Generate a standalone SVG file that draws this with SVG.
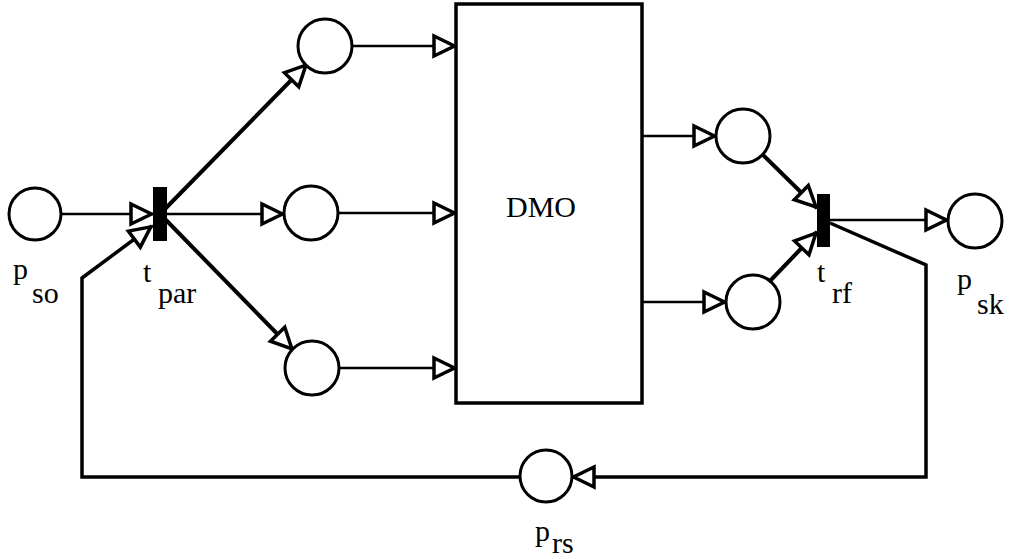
<svg xmlns="http://www.w3.org/2000/svg" width="1009" height="559" viewBox="0 0 1009 559">
<style>
.place{fill:#fff;stroke:#000;stroke-width:3}
.trans{fill:#000;stroke:none}
.box{fill:#fff;stroke:#000;stroke-width:3.5}
.c{fill:none;stroke:#000;stroke-width:2.5}
.d{fill:none;stroke:#000;stroke-width:4;stroke-linejoin:miter}
.f{fill:none;stroke:#000;stroke-width:3.5}
.a{marker-end:url(#arr)}
.t{font-family:'Times New Roman','Liberation Serif','DejaVu Serif',serif;font-size:30px;fill:#000}
</style>
<defs>
<marker id="arr" markerUnits="userSpaceOnUse" markerWidth="40" markerHeight="40" viewBox="-30 -20 40 40" refX="0" refY="0" orient="auto" overflow="visible">
<path d="M-1.5,0 L-22,-10 L-22,10 Z" fill="#fff" stroke="#000" stroke-width="3.5" stroke-linejoin="miter"/>
</marker>
</defs>
<g id="connectors">
<path class="c a" d="M61,214 L153,214"/>
<path class="c a" d="M167,214 L284,214"/>
<path class="d a" d="M163,211 L307,64"/>
<path class="d a" d="M165,219 L293,350"/>
<path class="f a" d="M520,477 L82,477 L82,278 L152,226"/>
<path class="c a" d="M352,46 L456,46"/>
<path class="c a" d="M338,213 L456,213"/>
<path class="c a" d="M339,368 L456,368"/>
<path class="c a" d="M642,136 L716,136"/>
<path class="c a" d="M642,302 L726,302"/>
<path class="d a" d="M762,154 L817,208"/>
<path class="d a" d="M770,281 L817,232"/>
<path class="c a" d="M830,220 L948,220"/>
<path class="f a" d="M830,223 L926,265 L926,477 L572,477"/>
</g>
<g id="p_so"><circle class="place" cx="35" cy="214" r="26"/><text class="t" x="13" y="279">p</text><text class="t" x="32" y="303">so</text></g>
<g id="t_par"><rect class="trans" x="153" y="187" width="14" height="54"/><text class="t" x="143" y="282">t</text><text class="t" x="158" y="303">par</text></g>
<g id="p_top"><circle class="place" cx="325" cy="46" r="27"/></g>
<g id="p_mid"><circle class="place" cx="311" cy="213" r="27"/></g>
<g id="p_bot"><circle class="place" cx="312" cy="368" r="27"/></g>
<g id="dmo"><rect class="box" x="456" y="4" width="186" height="399"/><text class="t" x="541" y="217" text-anchor="middle">DMO</text></g>
<g id="p_r1"><circle class="place" cx="743" cy="136" r="27"/></g>
<g id="p_r2"><circle class="place" cx="753" cy="302" r="27"/></g>
<g id="t_rf"><rect class="trans" x="817" y="194" width="13" height="53"/><text class="t" x="817" y="282">t</text><text class="t" x="832" y="303">rf</text></g>
<g id="p_sk"><circle class="place" cx="975" cy="221" r="27"/><text class="t" x="957" y="289">p</text><text class="t" x="977" y="314">sk</text></g>
<g id="p_rs"><circle class="place" cx="546" cy="476" r="26"/><text class="t" x="535" y="541">p</text><text class="t" x="552" y="553">rs</text></g>
</svg>
